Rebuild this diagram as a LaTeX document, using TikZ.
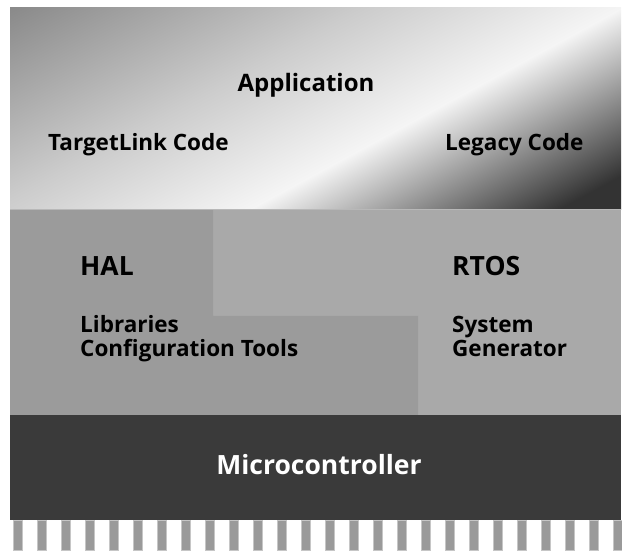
\documentclass[tikz,border=0pt]{standalone}
\usepackage{fontspec}
\setmainfont{Open Sans}
\usetikzlibrary{positioning}

\definecolor{halgray}{HTML}{9B9B9B}
\definecolor{rtosgray}{HTML}{A9A9A9}
\definecolor{mcgray}{HTML}{3A3A3A}
\definecolor{pingray}{HTML}{9A9A9A}
\definecolor{pinedge}{HTML}{C6C6C6}

% gray -> light -> white -> dark, along the diagonal of the top layer
\pgfdeclarehorizontalshading{appshade}{100bp}{%
  color(0bp)=(black!46); color(26.2bp)=(black!46);
  color(43bp)=(black!20); color(55.3bp)=(black!4);
  color(70bp)=(black!80); color(100bp)=(black!82)}

\begin{document}
\begin{tikzpicture}[x=1pt,y=1pt,
  apptext/.style={font=\fontsize{24}{28}\selectfont\bfseries, inner sep=0pt},
  headtext/.style={font=\fontsize{26.5}{30}\selectfont\bfseries, inner sep=0pt},
  subtext/.style={font=\fontsize{22.5}{24}\selectfont\bfseries, inner sep=0pt, align=left},
  pinbox/.style={fill=pingray, draw=pinedge, line width=1pt}]
\useasboundingbox (0,0) rectangle (622,551);

% application layer
\begin{scope}
  \clip (10,341) rectangle (621,543);
  \begin{scope}[transform canvas={shift={(0,551)}, rotate=-61.6}]
    \shade[shading=appshade] (0,-700) rectangle (500,700);
  \end{scope}
\end{scope}

% HAL / RTOS layer
\fill[rtosgray] (10,136) rectangle (621,341);
\fill[halgray] (10,136) -- (418,136) -- (418,235) -- (213,235)
  -- (213,341) -- (10,341) -- cycle;
\draw[black!28, line width=1pt] (10,341) -- (621,341);

% microcontroller and its pins
\fill[mcgray] (10,31) rectangle (621,136);
\foreach \k in {0,...,25}
  \draw[pinbox] ({13.5+24*\k},0) rectangle ++(9,30);

% texts
\node[apptext, anchor=base] (app) at (306,459) {Application};
\node[subtext, anchor=base west] (tlcode) at (48,400) {TargetLink Code};
\node[subtext, anchor=base west] (legacy) at (445,400) {Legacy Code};
\node[headtext, anchor=base west] (hal) at (80,275) {HAL};
\node[headtext, anchor=base west] (rtos) at (452,275) {RTOS};
\node[subtext, anchor=base west] (libs) at (80,194) {Libraries\\Configuration Tools};
\node[subtext, anchor=base west] (sysgen) at (452,194) {System\\Generator};
\node[headtext, anchor=base, text=white] (mc) at (319,76) {Microcontroller};
\end{tikzpicture}
\end{document}
